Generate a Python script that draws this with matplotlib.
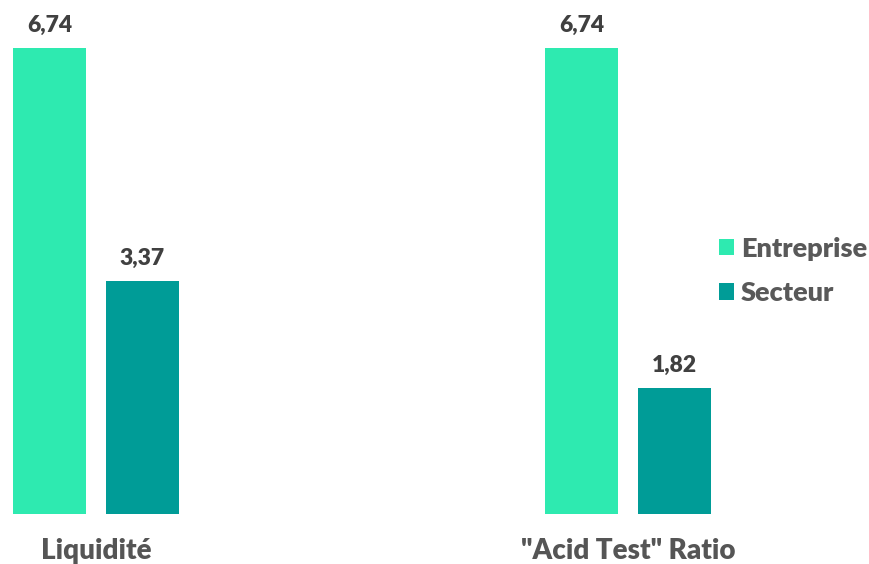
import matplotlib.pyplot as plt
import numpy as np

# donnees du graphique
categories = ['Liquidité', '"Acid Test" Ratio']
entreprise = [6.74, 6.74]
secteur = [3.37, 1.82]
series_noms = ['Entreprise', 'Secteur']

vert_clair = '#2EEAB0'
vert_fonce = '#009C97'

plt.rcParams['font.family'] = ['Lato', 'DejaVu Sans']

fig = plt.figure(figsize=(8.69, 5.64), dpi=100)
ax = fig.add_axes([0, 50 / 564, 1, 514 / 564])

x = np.arange(len(categories))
larg = 73 / 532
dec = 46.5 / 532

b1 = ax.bar(x - dec, entreprise, larg, color=vert_clair, label=series_noms[0])
b2 = ax.bar(x + dec, secteur, larg, color=vert_fonce, label=series_noms[1])

for barres in (b1, b2):
    for b in barres:
        ax.annotate(f'{b.get_height():.2f}'.replace('.', ','),
                    (b.get_x() + b.get_width() / 2, b.get_height()),
                    xytext=(0, 9), textcoords='offset points',
                    ha='center', va='bottom', fontsize=16.5,
                    fontweight='heavy', color='#404040')

ax.set_xlim(-96 / 532, 773 / 532)
ax.set_ylim(0, 514 / 69.14)
ax.set_xticks(x)
ax.set_xticklabels(categories, fontsize=20, fontweight='heavy', color='#555555')
ax.tick_params(axis='x', length=0, pad=17)
ax.set_yticks([])
for s in ax.spines.values():
    s.set_visible(False)

leg = ax.legend(loc='center left', bbox_to_anchor=(719 / 869, 1 - 271 / 564),
                bbox_transform=fig.transFigure, frameon=False,
                prop={'size': 19.5, 'weight': 'heavy'},
                handlelength=0.55, handleheight=0.55,
                handletextpad=0.25, labelspacing=0.75, borderpad=0,
                borderaxespad=0)
for t in leg.get_texts():
    t.set_color('#595959')

fig.savefig('out.png', dpi=100)
